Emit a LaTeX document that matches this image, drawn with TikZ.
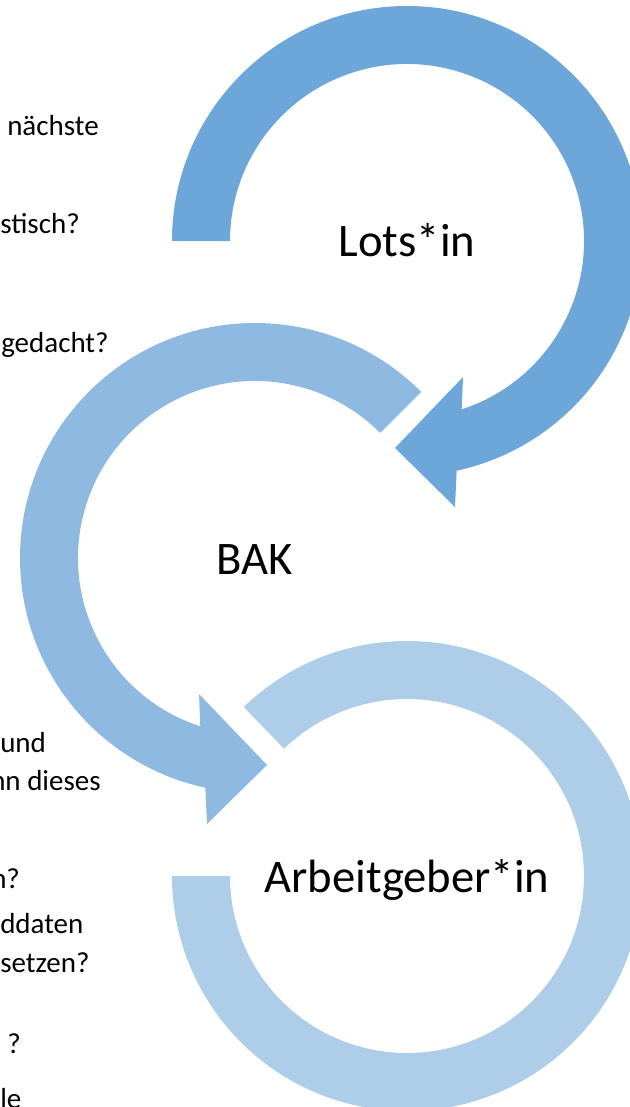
\documentclass[tikz,border=0pt]{standalone}
\usepackage{fontspec}
\setmainfont{Carlito}
\definecolor{lotsblue}{RGB}{109,166,216}
\definecolor{bakblue}{RGB}{142,185,225}
\definecolor{agblue}{RGB}{174,205,233}
\begin{document}
\begin{tikzpicture}[x=0.75pt,y=0.75pt,yscale=-1,xscale=1,
  ringlabel/.style={font=\fontsize{35}{42}\selectfont, inner sep=0pt, anchor=base},
  sidetext/.style={font=\fontsize{21.75}{26}\selectfont, inner sep=0pt, anchor=base west}]
%set diagram left start at 0, and has height of 1107
\useasboundingbox (0,0) rectangle (630,1107);
\clip (0,0) rectangle (630,1107);

\coordinate (lotsc) at (407,241);
\coordinate (bakc) at (255,558);
\coordinate (agc) at (407,876);

%Circular Arrow Arbeitgeber*in
\begin{scope}[shift={(agc)}]
\fill[agblue] (-134:235) arc[start angle=-134, end angle=180, radius=235] -- (180:177) arc[start angle=180, end angle=-134, radius=177] -- cycle ;
\end{scope}
%Circular Arrow BAK
\begin{scope}[shift={(bakc)}]
\fill[bakblue] (-45:235) arc[start angle=-45, end angle=-257.8, radius=235] -- (-48,266) -- (12,207) -- (-56,136) -- (-252:177) arc[start angle=-252, end angle=-45, radius=177] -- cycle ;
\end{scope}
%Circular Arrow Lots*in
\begin{scope}[shift={(lotsc)}]
\fill[lotsblue] (180:235) arc[start angle=180, end angle=437.8, radius=235] -- (48,266) -- (-12,207) -- (56,136) -- (72:177) arc[start angle=72, end angle=-180, radius=177] -- cycle ;
\end{scope}

\node[ringlabel] (lotsin) at (407,256) {Lots*in};
\node[ringlabel] (bak) at (255,574) {BAK};
\node[ringlabel] (arbeitgeber) at (407,892) {Arbeitgeber*in};

%text cut at the left edge
\node[sidetext] (frag1) at (7,135) {nächste};
\node[sidetext] (frag2) at (0,233) {stisch?};
\node[sidetext] (frag3) at (1,352) {gedacht?};
\node[sidetext] (frag4) at (0,752) {und};
\node[sidetext] (frag5) at (-10,790) {nn dieses};
\node[sidetext] (frag6) at (-9,888) {n?};
\node[sidetext] (frag7) at (0,933) {ddaten};
\node[sidetext] (frag8) at (0,972) {setzen?};
\node[sidetext] (frag9) at (7,1053) {?};
\node[sidetext] (frag10) at (0,1108) {le};
\end{tikzpicture}
\end{document}
